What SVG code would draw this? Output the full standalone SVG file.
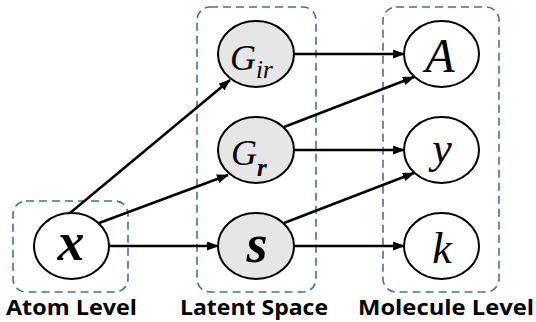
<svg xmlns="http://www.w3.org/2000/svg" width="536" height="322" viewBox="0 0 536 322">
<defs>
<style>
.grp{fill:none;stroke:#41719C;stroke-width:1.6;stroke-dasharray:8,5}
.obs{fill:#ffffff;stroke:#000;stroke-width:2}
.lat{fill:#e6e6e6;stroke:#000;stroke-width:2}
.m{font-family:"Liberation Serif","Times New Roman",serif;font-style:italic;fill:#000}
.mb{font-family:"Liberation Serif","Times New Roman",serif;font-style:italic;font-weight:bold;fill:#000}
.lab{font-family:"Open Sans","Liberation Sans",sans-serif;font-weight:bold;font-size:22px;fill:#000;text-anchor:middle}
.e{stroke:#000;stroke-width:2.5;fill:none;marker-end:url(#ah)}
</style>
<marker id="ah" markerUnits="userSpaceOnUse" markerWidth="12" markerHeight="9" refX="11" refY="4.5" orient="auto">
<path d="M0,0 L12,4.5 L0,9 z" fill="#000"/>
</marker>
</defs>
<g id="groups">
<rect id="atom-box" class="grp" x="13" y="201" width="115" height="91" rx="13"/>
<rect id="latent-box" class="grp" x="197" y="7" width="119" height="285" rx="13"/>
<rect id="molecule-box" class="grp" x="383" y="7" width="116" height="285" rx="13"/>
</g>
<g id="connectors">
<line class="e" x1="70" y1="213" x2="230" y2="80"/>
<line class="e" x1="99" y1="223" x2="228" y2="175"/>
<line class="e" x1="109" y1="246" x2="218" y2="246"/>
<line class="e" x1="294" y1="54" x2="404" y2="54"/>
<line class="e" x1="284" y1="127" x2="414" y2="77"/>
<line class="e" x1="294" y1="150" x2="404" y2="150"/>
<line class="e" x1="284" y1="223" x2="414" y2="173"/>
<line class="e" x1="294" y1="246" x2="404" y2="246"/>
</g>
<g id="node-x">
<ellipse class="obs" cx="71.5" cy="246" rx="37.5" ry="33"/>
<text class="mb" x="71" y="260" font-size="54" text-anchor="middle">x</text>
</g>
<g id="node-Gir">
<ellipse class="lat" cx="256" cy="54" rx="38" ry="33"/>
<text class="m" x="230" y="70" font-size="36">G<tspan font-size="25" dy="8">ir</tspan></text>
</g>
<g id="node-Gr">
<ellipse class="lat" cx="256" cy="150" rx="38" ry="33"/>
<text class="m" x="231" y="165" font-size="36">G<tspan class="mb" font-size="25" dy="11">r</tspan></text>
</g>
<g id="node-s">
<ellipse class="lat" cx="256" cy="246" rx="38" ry="33"/>
<text class="mb" x="257" y="262" font-size="54" text-anchor="middle">s</text>
</g>
<g id="node-A">
<ellipse class="obs" cx="441.5" cy="54" rx="37.5" ry="33"/>
<text class="m" x="440" y="72" font-size="48" text-anchor="middle">A</text>
</g>
<g id="node-y">
<ellipse class="obs" cx="441.5" cy="150" rx="37.5" ry="33"/>
<text class="m" x="442" y="163" font-size="44" text-anchor="middle">y</text>
</g>
<g id="node-k">
<ellipse class="obs" cx="441.5" cy="246" rx="37.5" ry="33"/>
<text class="m" x="442" y="263" font-size="44" text-anchor="middle">k</text>
</g>
<g id="labels">
<text class="lab" x="71.5" y="315" textLength="131" lengthAdjust="spacingAndGlyphs">Atom Level</text>
<text class="lab" x="254" y="315" textLength="148" lengthAdjust="spacingAndGlyphs">Latent Space</text>
<text class="lab" x="446" y="315" textLength="176" lengthAdjust="spacingAndGlyphs">Molecule Level</text>
</g>
</svg>
